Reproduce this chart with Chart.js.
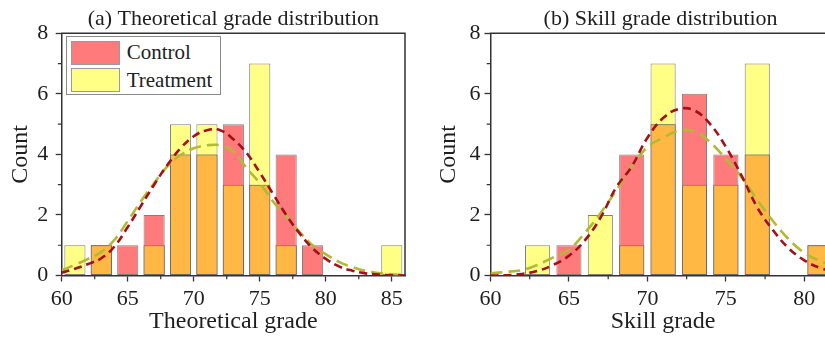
<!DOCTYPE html>
<html><head><meta charset="utf-8">
<script src="https://cdn.jsdelivr.net/npm/chart.js@4.4.1/dist/chart.umd.min.js"></script>
<style>
html,body{margin:0;padding:0;background:#fff;width:825px;height:338px;overflow:hidden;position:relative;}
canvas{position:absolute;top:0;}
#c1{left:0}
#c2{left:420px}
.legend{position:absolute;left:66px;top:36px;width:155px;height:59px;box-sizing:border-box;border:1px solid #8a8a8a;background:#fff;font-family:'Liberation Serif','Times New Roman',serif;font-size:21px;color:#222;}
.item{position:absolute;left:3.7px;height:24px;display:flex;align-items:center;white-space:nowrap;}
.sw{width:49px;height:24px;box-sizing:border-box;border:1px solid #9a9a9a;margin-right:7px;}
</style></head><body>
<canvas id="c1" width="420" height="338"></canvas>
<canvas id="c2" width="430" height="338"></canvas>
<div class="legend">
  <div class="item" style="top:3.7px"><div class="sw" id="swC"></div><span>Control</span></div>
  <div class="item" style="top:31px"><div class="sw" id="swT"></div><span>Treatment</span></div>
</div>
<script>
// ---------- data ----------
// (a) Theoretical grade: bins of width 2 (centres)
const theoBins       = [61, 63, 65, 67, 69, 71, 73, 75, 77, 79, 81, 83, 85];
const theoControl    = [0,  1,  1,  2,  4,  4,  5,  3,  4,  1,  0,  0,  0];
const theoTreatment  = [1,  1,  0,  1,  5,  5,  3,  7,  1,  0,  0,  0,  1];
const theoCurveX     = [60,61,62,63,64,65,66,67,68,69,70,71,72,73,74,75,76,77,78,79,80,81,82,83,84,85,86];
const theoControlFit = [0.09,0.22,0.38,0.57,0.96,1.6,2.3,3.0,3.65,4.2,4.6,4.8,4.8,4.5,4.05,3.4,2.7,2.0,1.4,0.9,0.55,0.3,0.16,0.07,0.03,0.01,0.0];
const theoTreatFit   = [0.17,0.35,0.55,0.78,1.18,1.8,2.45,3.05,3.6,3.98,4.2,4.3,4.3,4.1,3.55,3.05,2.45,1.95,1.45,1.0,0.7,0.45,0.28,0.15,0.08,0.04,0.02];
const theoXTicks     = [60, 65, 70, 75, 80, 85];
const theoXMinor     = [62.5, 67.5, 72.5, 77.5, 82.5];

// (b) Skill grade
const skillBins       = [61, 63, 65, 67, 69, 71, 73, 75, 77, 79, 81];
const skillControl    = [0,  0,  1,  0,  4,  5,  6,  4,  4,  0,  1];
const skillTreatment  = [0,  1,  0,  2,  1,  7,  3,  3,  7,  0,  1];
const skillCurveX     = [60,61,62,63,64,65,66,67,68,69,70,71,72,73,74,75,76,77,78,79,80,81,82,83,84];
const skillControlFit = [0.0,0.01,0.05,0.15,0.35,0.65,1.15,1.9,2.9,3.6,4.55,5.2,5.5,5.45,5.0,4.25,3.3,2.25,1.5,0.9,0.5,0.25,0.12,0.05,0.02];
const skillTreatFit   = [0.07,0.12,0.18,0.35,0.6,0.85,1.4,2.05,2.8,3.6,4.24,4.55,4.78,4.76,4.4,3.85,3.25,2.5,1.8,1.2,0.75,0.48,0.3,0.17,0.09];
const skillXTicks     = [60, 65, 70, 75, 80];
const skillXMinor     = [62.5, 67.5, 72.5, 77.5];

const countTicks = [0, 2, 4, 6, 8];
const countMinor = [1, 3, 5, 7];

// ---------- style ----------
const FONT = "'Liberation Serif','Times New Roman',serif";
const RED = '#FF7B7B', YEL = '#FFFF86', ORA = '#FFB843', EDGE = 'rgba(105,105,105,0.85)';
const FIT_RED = '#A3101B', FIT_GRN = '#B2B935';
const AX = '#333333', TXT = '#1e1e1e';
document.getElementById('swC').style.background = RED;
document.getElementById('swT').style.background = YEL;

function bars(bins, vals) {
  return bins.map((x, i) => vals[i] > 0 ? {x: x, y: vals[i]} : null).filter(Boolean);
}
function overlap(bins, a, b) {
  return bins.map((x, i) => Math.min(a[i], b[i]) > 0 ? {x: x, y: Math.min(a[i], b[i])} : null).filter(Boolean);
}
function curve(xs, ys) { return xs.map((x, i) => ({x: x, y: ys[i]})); }

const decor = {
  id: 'decor',
  afterDraw(chart, args, o) {
    const ctx = chart.ctx, a = chart.chartArea, xs = chart.scales.x, ys = chart.scales.y;
    ctx.save();
    ctx.strokeStyle = AX; ctx.lineWidth = 1.2;
    ctx.beginPath();
    o.minorY.forEach(v => { const p = ys.getPixelForValue(v); ctx.moveTo(a.left, p); ctx.lineTo(a.left - 3.8, p); });
    o.minorX.forEach(v => { if (v <= xs.max) { const p = xs.getPixelForValue(v); ctx.moveTo(p, a.bottom); ctx.lineTo(p, a.bottom + 3.8); } });
    ctx.stroke();
    ctx.lineWidth = 1.5;
    ctx.beginPath();
    ctx.moveTo(a.left - 0.75, a.top); ctx.lineTo(a.right, a.top);
    if (o.right) { ctx.lineTo(a.right, a.bottom); }
    ctx.stroke();
    ctx.fillStyle = TXT;
    ctx.font = '22px ' + FONT;
    ctx.textAlign = 'center'; ctx.textBaseline = 'middle';
    ctx.fillText(o.title, (a.left + a.right) / 2 + (o.titleShift || 0), o.titleY);
    ctx.restore();
  }
};

function makeChart(id, cfg) {
  const tickFont = {family: FONT, size: 22};
  const titleFont = {family: FONT, size: 24};
  return new Chart(document.getElementById(id), {
    type: 'bar',
    data: {
      datasets: [
        {type: 'line', data: curve(cfg.curveX, cfg.ctrlFit), borderColor: FIT_RED, borderWidth: 2.6, borderDash: [8, 5], pointRadius: 0, tension: 0.4, fill: false, order: 0},
        {type: 'line', data: curve(cfg.curveX, cfg.treatFit), borderColor: FIT_GRN, borderWidth: 2.6, borderDash: [12, 6], pointRadius: 0, tension: 0.4, fill: false, order: 1},
        {label: 'Overlap', data: overlap(cfg.bins, cfg.ctrl, cfg.treat), backgroundColor: ORA, borderColor: EDGE, borderWidth: 1, order: 2},
        {label: 'Control', data: bars(cfg.bins, cfg.ctrl), backgroundColor: RED, borderColor: EDGE, borderWidth: 1, order: 3},
        {label: 'Treatment', data: bars(cfg.bins, cfg.treat), backgroundColor: YEL, borderColor: EDGE, borderWidth: 1, order: 4}
      ]
    },
    options: {
      responsive: false, animation: false, devicePixelRatio: 1,
      datasets: {bar: {grouped: false, barPercentage: 0.8, categoryPercentage: 1, borderSkipped: false}},
      layout: {padding: {left: 0, top: 33.3, right: cfg.padRight, bottom: 0}},
      plugins: {
        legend: {display: false}, tooltip: {enabled: false}, title: {display: false},
        decor: {title: cfg.title, titleY: 19.5, right: cfg.frameRight, minorX: cfg.minorX, minorY: countMinor, titleShift: cfg.titleShift}
      },
      scales: {
        x: {
          type: 'linear', min: 60, max: cfg.xMax, offset: false,
          afterBuildTicks: s => { s.ticks = cfg.xTicks.map(v => ({value: v})); },
          afterFit: s => { s.height = 62.5; },
          ticks: {font: tickFont, color: TXT, padding: 5, maxRotation: 0, autoSkip: false},
          grid: {offset: false, drawOnChartArea: false, drawTicks: true, tickLength: 6, tickColor: AX, tickWidth: 1.3},
          border: {display: true, color: AX, width: 1.5},
          title: {display: true, text: cfg.xTitle, font: titleFont, color: TXT, padding: {top: 0, bottom: 1.6}}
        },
        y: {
          min: 0, max: 8,
          afterBuildTicks: s => { s.ticks = countTicks.map(v => ({value: v})); },
          afterFit: s => { s.width = cfg.yWidth; },
          ticks: {font: tickFont, color: TXT, padding: cfg.yPad},
          grid: {drawOnChartArea: false, drawTicks: true, tickLength: 6, tickColor: AX, tickWidth: 1.3},
          border: {display: true, color: AX, width: 1.5},
          title: {display: true, text: 'Count', font: titleFont, color: TXT, padding: {top: cfg.yTitlePad, bottom: 0}}
        }
      }
    },
    plugins: [decor]
  });
}

makeChart('c1', {
  bins: theoBins, ctrl: theoControl, treat: theoTreatment,
  curveX: theoCurveX, ctrlFit: theoControlFit, treatFit: theoTreatFit,
  xTicks: theoXTicks, minorX: theoXMinor, xMax: 86,
  xTitle: 'Theoretical grade', title: '(a) Theoretical grade distribution',
  padRight: 15, yWidth: 61.7, yPad: 7.4, yTitlePad: 6.6, frameRight: true, titleShift: 0
});
makeChart('c2', {
  bins: skillBins, ctrl: skillControl, treat: skillTreatment,
  curveX: skillCurveX, ctrlFit: skillControlFit, treatFit: skillTreatFit,
  xTicks: skillXTicks, minorX: skillXMinor, xMax: 82,
  xTitle: 'Skill grade', title: '(b) Skill grade distribution',
  padRight: 14.3, yWidth: 70.5, yPad: 4, yTitlePad: 14.6, frameRight: false, titleShift: -2.5
});
</script>
</body></html>
